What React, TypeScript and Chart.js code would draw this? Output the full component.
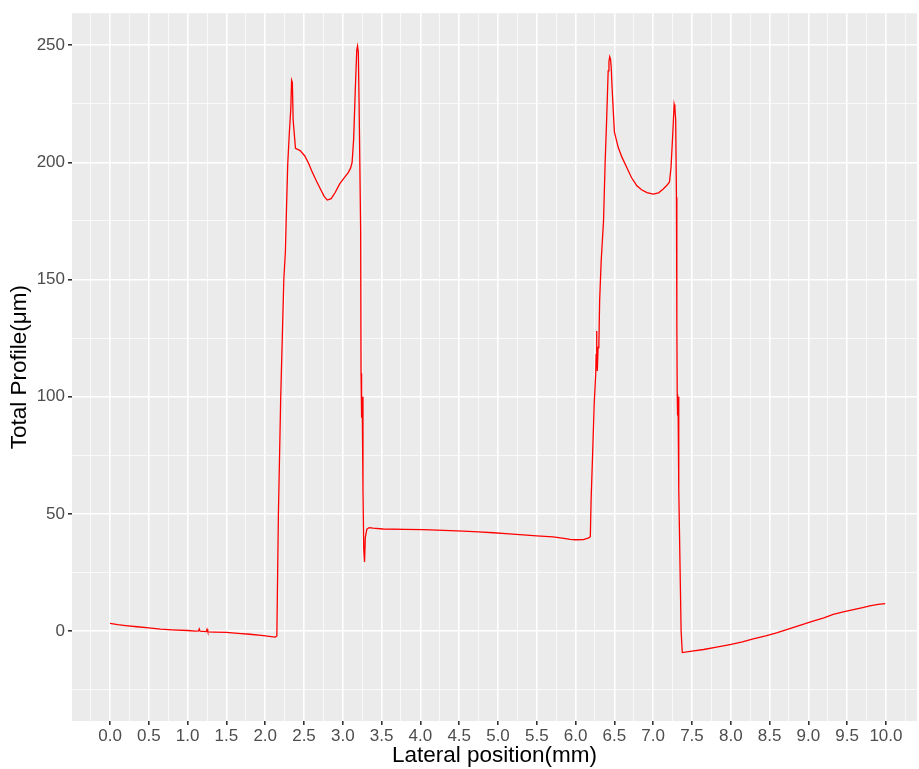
import { useEffect, useRef } from 'react';
import { Chart, registerables } from 'chart.js';

Chart.register(...registerables);

// ---- data (mm, µm) ----
const baselineX = [0, 0.1, 0.2, 0.35, 0.5, 0.65, 0.8, 1.0, 1.1, 1.14, 1.15, 1.16, 1.2, 1.24, 1.25, 1.26, 1.35, 1.5, 1.65, 1.8, 1.95, 2.05, 2.13];
const baselineY = [3.3, 2.8, 2.4, 1.9, 1.4, 0.9, 0.6, 0.3, 0.0, 0.1, 1.0, 0.0, -0.1, -0.2, 0.8, -0.3, -0.4, -0.5, -0.9, -1.3, -1.8, -2.2, -2.5];

const firstPeakX = [2.15, 2.17, 2.2, 2.24, 2.26, 2.27, 2.29, 2.31, 2.33, 2.34, 2.35, 2.36, 2.39, 2.45, 2.51, 2.56, 2.6, 2.66, 2.71, 2.76, 2.8, 2.85, 2.9, 2.96, 3.02, 3.07, 3.1, 3.12, 3.14, 3.16, 3.18, 3.19, 3.2, 3.21, 3.23, 3.235, 3.24, 3.245, 3.25, 3.26, 3.27, 3.28, 3.29, 3.31];
const firstPeakY = [-2, 50, 100, 150, 162, 175, 199, 212, 223, 235, 234, 218, 206, 205, 202.7, 199.5, 196.3, 192, 188.7, 185.5, 183.9, 184.5, 187, 190.8, 193.5, 195.6, 197.5, 200, 210, 230, 248, 249.6, 247, 225, 171, 110, 100, 91, 100, 60, 35, 29.5, 40, 43.5];

const plateauX = [3.34, 3.39, 3.52, 3.8, 4.04, 4.3, 4.55, 4.75, 4.94, 5.1, 5.28, 5.5, 5.71, 5.85, 5.93, 6.0, 6.1, 6.17, 6.19];
const plateauY = [44.2, 44, 43.6, 43.4, 43.3, 43.0, 42.7, 42.4, 42.0, 41.6, 41.2, 40.7, 40.2, 39.6, 39.2, 39.0, 39.1, 39.8, 40.3];

const secondPeakX = [6.2, 6.22, 6.24, 6.26, 6.265, 6.27, 6.275, 6.28, 6.29, 6.3, 6.31, 6.33, 6.36, 6.38, 6.4, 6.42, 6.43, 6.44, 6.45, 6.46, 6.47, 6.5, 6.55, 6.6, 6.66, 6.72, 6.79, 6.85, 6.92, 7.0, 7.07, 7.13, 7.18, 7.21, 7.23, 7.25, 7.27, 7.28, 7.29, 7.3, 7.305, 7.31, 7.315, 7.32, 7.33, 7.35, 7.36, 7.375];
const secondPeakY = [56, 76, 97, 110, 118, 128, 120, 111, 121, 122, 141, 158, 175, 199, 218, 239, 243, 245, 244, 240, 232, 213, 206.3, 202, 197.8, 193.5, 190, 188.3, 187.1, 186.4, 187, 188.6, 190.3, 191.6, 197.8, 210.6, 224.7, 223, 218, 185, 130, 101, 92, 100, 60, 20, 0, -9.1];

const tailX = [7.5, 7.65, 7.8, 7.99, 8.15, 8.29, 8.45, 8.59, 8.72, 8.85, 8.95, 9.06, 9.2, 9.32, 9.45, 9.58, 9.7, 9.79, 9.9, 9.99];
const tailY = [-8.5, -7.8, -6.9, -5.7, -4.6, -3.3, -2.0, -0.7, 0.7, 2.1, 3.1, 4.3, 5.7, 7.2, 8.2, 9.2, 10.1, 10.8, 11.4, 11.8];

const profileX = [...baselineX, ...firstPeakX, ...plateauX, ...secondPeakX, ...tailX];
const profileY = [...baselineY, ...firstPeakY, ...plateauY, ...secondPeakY, ...tailY];

const xBreaks = [-0.25, 0, 0.25, 0.5, 0.75, 1, 1.25, 1.5, 1.75, 2, 2.25, 2.5, 2.75, 3, 3.25, 3.5, 3.75, 4, 4.25, 4.5, 4.75, 5, 5.25, 5.5, 5.75, 6, 6.25, 6.5, 6.75, 7, 7.25, 7.5, 7.75, 8, 8.25, 8.5, 8.75, 9, 9.25, 9.5, 9.75, 10, 10.25];
const yBreaks = [-25, 0, 25, 50, 75, 100, 125, 150, 175, 200, 225, 250];

const FONT = "'Liberation Sans', Arial, sans-serif";

const isMajorX = (v: number) => Math.abs(v * 2 - Math.round(v * 2)) < 1e-6;
const isMajorY = (v: number) => Math.abs(v / 50 - Math.round(v / 50)) < 1e-6;

const panelBg = {
  id: 'panelBg',
  beforeDraw(chart: any) {
    const { ctx, chartArea } = chart;
    ctx.save();
    ctx.fillStyle = '#EBEBEB';
    ctx.fillRect(chartArea.left, chartArea.top, chartArea.right - chartArea.left, chartArea.bottom - chartArea.top);
    ctx.restore();
  },
};

export default function App() {
  const ref = useRef<HTMLCanvasElement>(null);
  useEffect(() => {
    if (!ref.current) return;
    const points = profileX.map((x, i) => ({ x, y: profileY[i] }));
    const chart = new Chart(ref.current, {
      type: 'line',
      data: {
        datasets: [
          {
            data: points,
            borderColor: '#FF0000',
            borderWidth: 1.3,
            pointRadius: 0,
            tension: 0,
            fill: false,
          },
        ],
      },
      options: {
        responsive: false,
        animation: false,
        layout: { padding: { top: 12, right: 2, left: 0, bottom: 0 } },
        plugins: { legend: { display: false }, tooltip: { enabled: false } },
        scales: {
          x: {
            type: 'linear',
            min: -0.49,
            max: 10.4,
            afterBuildTicks: (s: any) => {
              s.ticks = xBreaks.map((v) => ({ value: v }));
            },
            afterFit: (s: any) => {
              s.height = 48;
            },
            ticks: {
              autoSkip: false,
              maxRotation: 0,
              padding: 1,
              color: '#4D4D4D',
              font: { size: 17, family: FONT },
              callback: (v: any) => (isMajorX(Number(v)) ? Number(v).toFixed(1) : ''),
            },
            grid: {
              color: '#FFFFFF',
              lineWidth: (c: any) => (c.tick && isMajorX(c.tick.value) ? 1.6 : 0.7),
              tickColor: (c: any) => (c.tick && isMajorX(c.tick.value) ? '#333333' : 'rgba(0,0,0,0)'),
              tickLength: 4,
              drawTicks: true,
            },
            border: { display: false },
            title: {
              display: true,
              text: 'Lateral position(mm)',
              color: '#000000',
              font: { size: 22.5, family: FONT },
              padding: { top: 0, bottom: 0 },
            },
          },
          y: {
            type: 'linear',
            min: -38.3,
            max: 263.6,
            afterBuildTicks: (s: any) => {
              s.ticks = yBreaks.map((v) => ({ value: v }));
            },
            afterFit: (s: any) => {
              s.width = 72;
            },
            ticks: {
              autoSkip: false,
              padding: 3,
              color: '#4D4D4D',
              font: { size: 17, family: FONT },
              callback: (v: any) => (isMajorY(Number(v)) ? String(Number(v)) : ''),
            },
            grid: {
              color: '#FFFFFF',
              lineWidth: (c: any) => (c.tick && isMajorY(c.tick.value) ? 1.6 : 0.7),
              tickColor: (c: any) => (c.tick && isMajorY(c.tick.value) ? '#333333' : 'rgba(0,0,0,0)'),
              tickLength: 4,
              drawTicks: true,
            },
            border: { display: false },
            title: {
              display: true,
              text: 'Total Profile(μm)',
              color: '#000000',
              font: { size: 22.5, family: FONT },
              padding: { top: 6, bottom: 0 },
            },
          },
        },
      },
      plugins: [panelBg],
    });
    return () => chart.destroy();
  }, []);
  return (
    <div style={{ position: 'fixed', left: 0, top: 0, width: 919, height: 769, background: '#FFFFFF' }}>
      <canvas ref={ref} width={919} height={769} style={{ display: 'block' }} />
    </div>
  );
}
